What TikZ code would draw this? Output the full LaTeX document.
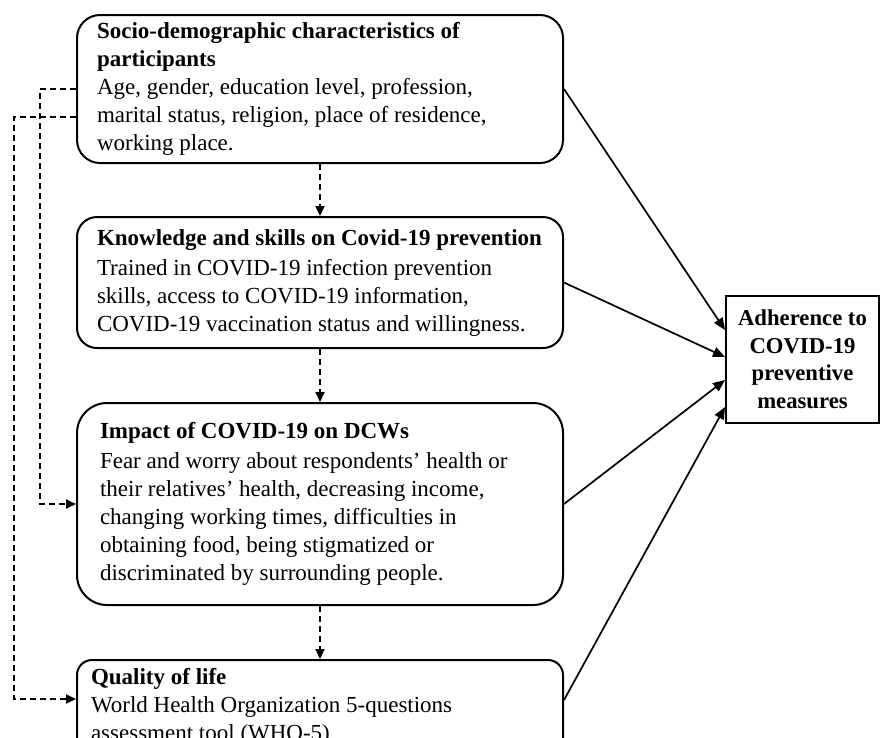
\documentclass[tikz,border=0pt]{standalone}
\usepackage{fontspec}
\setmainfont{Liberation Serif}
\usetikzlibrary{arrows.meta}
\begin{document}
\begin{tikzpicture}[x=1pt,y=-1pt,
  factor/.style={draw, line width=2pt, align=flush left, inner ysep=0pt, font=\fontsize{23}{28}\selectfont},
  outcome/.style={draw, line width=2pt, align=flush center, font=\bfseries\fontsize{22.7}{27.5}\selectfont, minimum width=153pt, minimum height=127pt},
  link/.style={line width=1.7pt, -{Triangle[length=12pt,width=10pt]}},
  chain/.style={line width=1.8pt, dash pattern=on 6pt off 4pt, -{Triangle[length=10pt,width=9pt]}}]
\useasboundingbox (0,0) rectangle (880,737);
% Factor boxes
\node[factor, rounded corners=23pt, text width=446pt, inner xsep=20pt, minimum height=148pt] (socio) at (320,89)
  {\textbf{Socio-demographic characteristics of}\\\textbf{participants}\\Age, gender, education level, profession,\\marital status, religion, place of residence,\\working place.};
\node[factor, rounded corners=20pt, text width=446pt, inner xsep=20pt, minimum height=131pt] (knowledge) at (320,282.5)
  {\textbf{Knowledge and skills on Covid-19 prevention}\\[2pt]Trained in COVID-19 infection prevention\\skills, access to COVID-19 information,\\COVID-19 vaccination status and willingness.};
\node[factor, rounded corners=30pt, text width=440pt, inner xsep=23pt, minimum height=202pt] (impact) at (320,504)
  {\textbf{Impact of COVID-19 on DCWs}\\[2pt]Fear and worry about respondents’ health or\\their relatives’ health, decreasing income,\\changing working times, difficulties in\\obtaining food, being stigmatized or\\discriminated by surrounding people.};
\node[factor, rounded corners=15pt, text width=458pt, inner xsep=14pt, minimum height=94pt] (quality) at (320,707)
  {\textbf{Quality of life}\\World Health Organization 5-questions\\assessment tool (WHO-5)};
% Outcome box
\node[outcome] (adh) at (802.5,359.5) {Adherence to\\COVID-19\\preventive\\measures};
% Dashed arrows between factors
\draw[chain] (socio) -- (knowledge);
\draw[chain] (knowledge) -- (impact);
\draw[chain] (impact) -- (quality);
\draw[chain] (socio.west) -- ++(-36,0) |- (impact.west);
\draw[chain] ([yshift=-28pt]socio.west) -- ++(-62,0) |- ([yshift=8pt]quality.west);
% Arrows to outcome
\draw[link] (socio.east) -- ([yshift=29.5pt]adh.west);
\draw[link] (knowledge.east) -- ([yshift=2.5pt]adh.west);
\draw[link] (impact.east) -- ([yshift=-20.5pt]adh.west);
\draw[link] ([yshift=7pt]quality.east) -- ([yshift=-47.5pt]adh.west);
\end{tikzpicture}
\end{document}
